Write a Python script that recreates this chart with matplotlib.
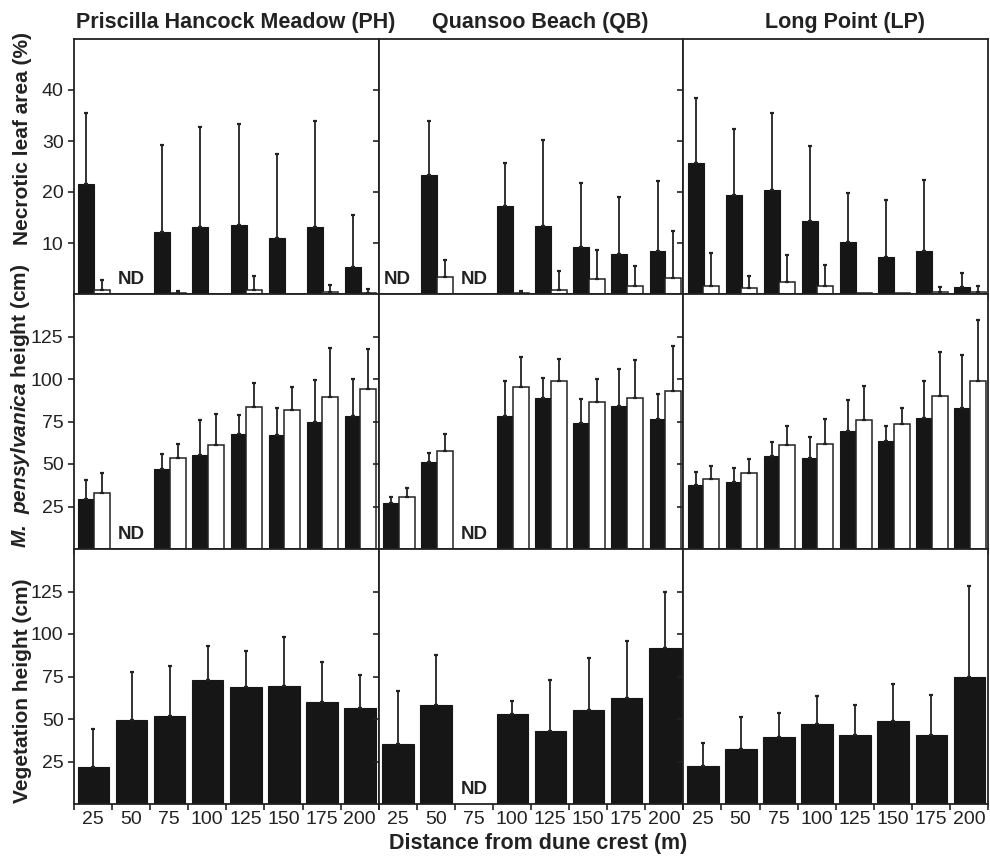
import matplotlib.pyplot as plt
import numpy as np
from matplotlib.transforms import blended_transform_factory

plt.rcParams["font.family"] = ["Liberation Sans", "DejaVu Sans"]
plt.rcParams["mathtext.fontset"] = "custom"
plt.rcParams["mathtext.bfit"] = "Liberation Sans:italic:bold"
plt.rcParams["mathtext.rm"] = "Liberation Sans"

nan = np.nan

sites = ["Priscilla Hancock Meadow (PH)", "Quansoo Beach (QB)", "Long Point (LP)"]
distances = [25, 50, 75, 100, 125, 150, 175, 200]

# necrotic leaf area (%), one row per site: PH, QB, LP
necrotic_filled = [
    [21.6, nan, 12.2, 13.1, 13.5, 10.9, 13.1, 5.3],
    [nan, 23.3, nan, 17.2, 13.4, 9.3, 7.9, 8.4],
    [25.6, 19.4, 20.3, 14.3, 10.1, 7.2, 8.4, 1.4],
]
necrotic_filled_sd = [
    [13.8, nan, 17.0, 19.7, 19.8, 16.5, 20.9, 10.1],
    [nan, 10.6, nan, 8.4, 16.8, 12.4, 11.2, 13.8],
    [12.8, 13.0, 15.2, 14.8, 9.8, 11.2, 14.0, 2.7],
]
necrotic_open = [
    [0.7, nan, 0.15, 0.0, 0.8, 0.0, 0.3, 0.2],
    [nan, 3.4, nan, 0.2, 0.8, 3.0, 1.5, 3.2],
    [1.6, 1.2, 2.4, 1.6, 0.1, 0.1, 0.3, 0.4],
]
necrotic_open_sd = [
    [2.1, nan, 0.45, 0.0, 2.8, 0.0, 1.5, 0.8],
    [nan, 3.2, nan, 0.3, 3.7, 5.7, 4.0, 9.1],
    [6.5, 2.3, 5.2, 4.0, 0.0, 0.0, 1.1, 1.2],
]

# M. pensylvanica height (cm)
plant_filled = [
    [29.3, nan, 47.0, 55.3, 67.5, 67.1, 74.6, 78.0],
    [27.0, 51.0, nan, 78.0, 88.6, 74.2, 83.9, 76.6],
    [37.4, 39.4, 54.5, 53.5, 69.5, 63.4, 77.2, 82.9],
]
plant_filled_sd = [
    [11.3, nan, 8.7, 20.5, 11.6, 16.0, 25.0, 22.0],
    [3.7, 5.7, nan, 20.8, 12.2, 14.2, 22.0, 14.5],
    [8.1, 8.0, 8.5, 12.2, 17.9, 8.8, 21.4, 31.3],
]
plant_open = [
    [32.7, nan, 53.5, 61.4, 83.3, 81.5, 89.4, 93.9],
    [30.7, 57.9, nan, 95.3, 99.0, 86.4, 88.6, 92.9],
    [40.9, 44.9, 61.4, 62.0, 76.0, 73.6, 89.8, 98.8],
]
plant_open_sd = [
    [12.2, nan, 8.5, 18.1, 14.1, 13.6, 28.7, 24.0],
    [5.1, 9.8, nan, 17.7, 12.8, 13.4, 22.6, 26.4],
    [7.7, 8.1, 11.2, 14.4, 19.9, 9.5, 26.1, 35.8],
]

# vegetation height (cm)
veg_mean = [
    [21.5, 49.2, 51.6, 72.9, 68.9, 69.5, 59.8, 56.6],
    [35.5, 58.4, nan, 53.1, 43.0, 55.1, 62.5, 92.0],
    [22.5, 32.4, 39.3, 46.9, 40.4, 48.6, 40.8, 75.0],
]
veg_sd = [
    [22.6, 28.5, 29.3, 20.1, 21.1, 28.5, 23.8, 19.4],
    [31.1, 29.5, nan, 7.6, 30.0, 30.6, 33.2, 33.0],
    [13.6, 18.8, 14.4, 16.8, 18.0, 22.1, 23.1, 53.5],
]

row_labels = [
    "Necrotic leaf area (%)",
    r"$\mathbfit{M.\ pensylvanica}$ height (cm)",
    "Vegetation height (cm)",
]
row_ylims = [50, 150, 150]
row_yticks = [[10, 20, 30, 40], [25, 50, 75, 100, 125], [25, 50, 75, 100, 125]]
row_label_y = [0.61, 0.56, 0.443]

BLACK = "#161616"
INK = "#222222"


def upper_errorbar(ax, x, mean, sd):
    x = np.asarray(x, dtype=float)
    mean = np.asarray(mean, dtype=float)
    sd = np.asarray(sd, dtype=float)
    keep = ~np.isnan(mean) & (sd > 0)
    ax.errorbar(x[keep], mean[keep], yerr=[np.zeros(keep.sum()), sd[keep]],
                fmt="none", ecolor=INK, elinewidth=1.3, capsize=1.6,
                capthick=1.6, zorder=3)


fig = plt.figure(figsize=(9.9, 8.56), dpi=100)
W, H = 990, 856
left0, panel_w = 74, 304.7
row_top = [39, 294, 549]
panel_h = 255

idx = np.arange(len(distances))
for r in range(3):
    for c in range(3):
        x0 = left0 + c * panel_w
        y_top = row_top[r]
        ax = fig.add_axes([x0 / W, 1 - (y_top + panel_h) / H, panel_w / W, panel_h / H])

        if r < 2:
            if r == 0:
                fa, fs, oa, osd = necrotic_filled[c], necrotic_filled_sd[c], necrotic_open[c], necrotic_open_sd[c]
            else:
                fa, fs, oa, osd = plant_filled[c], plant_filled_sd[c], plant_open[c], plant_open_sd[c]
            fa = np.asarray(fa, dtype=float)
            oa = np.asarray(oa, dtype=float)
            ax.bar(idx + 0.32, np.nan_to_num(fa), width=0.42, color=BLACK,
                   edgecolor=BLACK, linewidth=0.8, zorder=2)
            ax.bar(idx + 0.73, np.nan_to_num(oa), width=0.42, color="white",
                   edgecolor=INK, linewidth=1.1, zorder=2)
            upper_errorbar(ax, idx + 0.32, fa, fs)
            upper_errorbar(ax, idx + 0.73, oa, osd)
            missing = np.isnan(fa)
        else:
            vm = np.asarray(veg_mean[c], dtype=float)
            ax.bar(idx + 0.51, np.nan_to_num(vm), width=0.83, color=BLACK,
                   edgecolor=BLACK, linewidth=0.8, zorder=2)
            upper_errorbar(ax, idx + 0.51, vm, veg_sd[c])
            missing = np.isnan(vm)

        trans = blended_transform_factory(ax.transData, ax.transAxes)
        for i in idx[missing]:
            ax.text(i + 0.5, 0.022, "ND", transform=trans, ha="center",
                    va="bottom", fontsize=13.5, fontweight="bold", color=INK)

        ax.set_xlim(0, len(distances))
        ax.set_ylim(0, row_ylims[r])
        ax.set_xticks(np.arange(len(distances) + 1))
        ax.set_xticklabels([])
        ax.set_yticks(row_yticks[r])
        ax.tick_params(axis="both", direction="out", length=4, width=1.2,
                       color=INK, labelsize=14, labelcolor=INK)
        if r == 2:
            ax.set_xticks(idx + 0.5, minor=True)
            ax.set_xticklabels([str(d) for d in distances], minor=True)
            ax.tick_params(axis="x", which="minor", length=0, pad=5,
                           labelsize=14, labelcolor=INK)
        if c > 0:
            ax.set_yticklabels([])
        else:
            ax.set_ylabel(row_labels[r], fontsize=15, fontweight="bold", color=INK)
            ax.yaxis.set_label_coords(-0.137, row_label_y[r])
        for spine in ax.spines.values():
            spine.set_linewidth(1.3)
            spine.set_color(INK)
        if r == 0:
            ax.set_title(sites[c], fontsize=15.5, fontweight="bold", color=INK,
                         pad=8, x=0.53)

fig.text(538 / W, 1 - 843 / H, "Distance from dune crest (m)", ha="center",
         va="center", fontsize=15.5, fontweight="bold", color=INK)

fig.savefig("out.png", dpi=100)
